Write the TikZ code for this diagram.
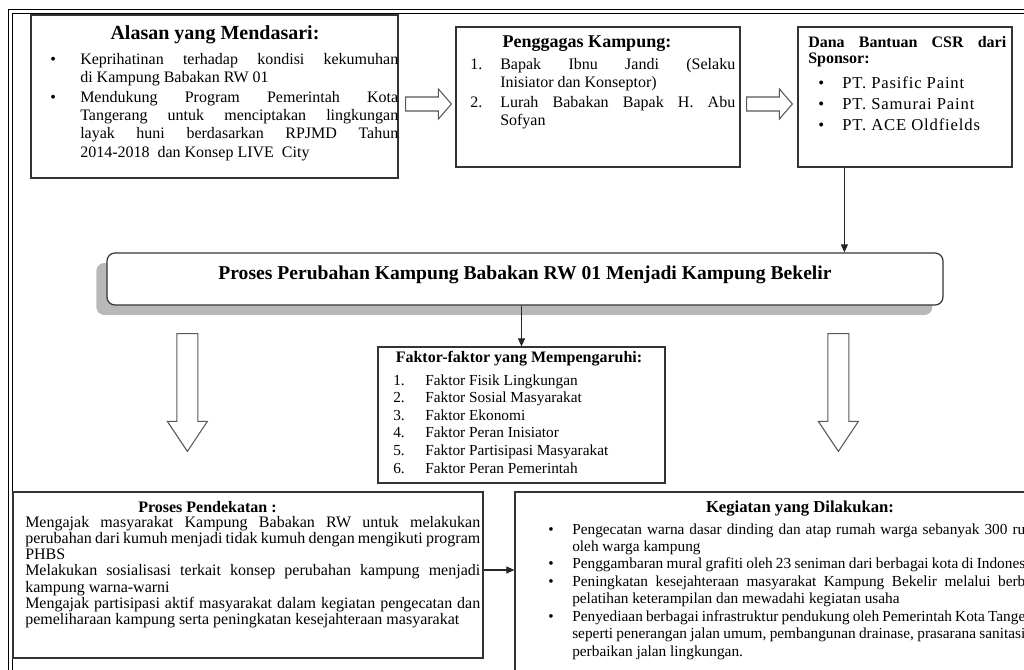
\documentclass[tikz,border=0pt]{standalone}
\usepackage{fontspec}
\setmainfont{Liberation Serif}
\usetikzlibrary{positioning, arrows.meta, calc, fit, shadows}

\newcommand{\hfnt}{\fontsize{15}{18}\selectfont\bfseries}
\newcommand{\bfnt}[1]{\fontsize{12}{#1}\selectfont}
% hanging list items (each item ends with \par)
\newcommand{\bulitem}[1]{\noindent\hangindent=#1\hangafter=1\makebox[#1][l]{\textbullet}\ignorespaces}
\newcommand{\numitem}[2]{\noindent\hangindent=#1\hangafter=1\makebox[#1][l]{#2}\ignorespaces}
% hollow block arrows
\newcommand{\rightblock}[2]{%
  \draw[blockarrow] ($(#1)+(0,-7)$) -- ($(#2)+(-13,-7)$) -- ($(#2)+(-13,-15)$) -- (#2)
    -- ($(#2)+(-13,15)$) -- ($(#2)+(-13,7)$) -- ($(#1)+(0,7)$) -- cycle;}
\newcommand{\downblock}[2]{%
  \draw[blockarrow] ($(#1)+(-10.5,0)$) -- ($(#2)+(-10.5,-30)$) -- ($(#2)+(-20,-30)$) -- (#2)
    -- ($(#2)+(20,-30)$) -- ($(#2)+(10.5,-30)$) -- ($(#1)+(10.5,0)$) -- cycle;}

\begin{document}
\begin{tikzpicture}[x=0.75pt, y=-0.75pt,
  box/.style={draw=black!80, line width=0.9pt, inner sep=0pt},
  txt/.style={inner sep=0pt, anchor=base west, align=justify},
  head/.style={inner sep=0pt, anchor=base},
  link/.style={black!85, line width=0.8pt, -{Triangle[length=6pt,width=5.25pt]}},
  blockarrow/.style={draw=black!65, line width=0.8pt, fill=white, line join=miter},
  frame/.style={black, line width=0.75pt}]
\useasboundingbox (0,0) rectangle (1024,669);
\clip (0,0) rectangle (1024,669);

% double frame
\draw[frame] (8,700) -- (8,9) -- (1040,9);
\draw[frame] (12,700) -- (12,13) -- (1040,13);

% top row
\node[box, fit={(31,15) (398,178)}] (alasan) {};
\node[box, fit={(456,27) (740,167)}] (penggagas) {};
\node[box, fit={(798,27) (1012,167)}] (dana) {};

\node[head] (alasanhead) at (215,39) {\hfnt Alasan yang Mendasari:};
\node[txt, text width=261pt] (alasantext) at (50,64) {\bfnt{13.65pt}\setlength{\parskip}{1.5pt}%
  \bulitem{22.5pt}Keprihatinan terhadap kondisi kekumuhan\linebreak di Kampung Babakan RW 01\par
  \bulitem{22.5pt}Mendukung Program Pemerintah Kota\linebreak Tangerang untuk menciptakan lingkungan\linebreak
  layak huni berdasarkan RPJMD Tahun\linebreak 2014-2018 \ dan Konsep LIVE \ City\par};

\node[head] (penggagashead) at (587,47) {\fontsize{13.5}{16}\selectfont\bfseries Penggagas Kampung:};
\node[txt, text width=198.75pt] (penggagastext) at (470,69) {\bfnt{13.6pt}\setlength{\parskip}{1.5pt}%
  \numitem{22.5pt}{1.}Bapak Ibnu Jandi (Selaku\linebreak Inisiator dan Konseptor)\par
  \numitem{22.5pt}{2.}Lurah Babakan Bapak H. Abu\linebreak Sofyan\par};

\node[txt, text width=148.5pt] (danahead) at (808,47) {\fontsize{12}{15}\selectfont\bfseries
  Dana Bantuan CSR dari\linebreak Sponsor:};
\node[txt, text width=142.5pt] (danatext) at (818,88) {\fontsize{12.5}{15.75}\selectfont\addfontfeature{LetterSpace=5}%
  \bulitem{18pt}PT. Pasific Paint\par
  \bulitem{18pt}PT. Samurai Paint\par
  \bulitem{18pt}PT. ACE Oldfields\par};

% main process
\node[box, fit={(107,253) (943,305)}, rounded corners=6pt, fill=white,
  drop shadow={shadow xshift=-8pt, shadow yshift=-7.5pt, fill=black!28, opacity=1}] (proses) {};
\node[head] (prosestitle) at (525,279) {\fontsize{14.7}{17}\selectfont\bfseries
  Proses Perubahan Kampung Babakan RW 01 Menjadi Kampung Bekelir};

% factors
\node[box, fit={(378,347) (665,483)}] (faktor) {};
\node[head] (faktorhead) at (519,362) {\fontsize{12}{14}\selectfont\bfseries Faktor-faktor yang Mempengaruhi:};
\node[txt, text width=198.75pt] (faktortext) at (393,385) {\fontsize{11.5}{13.2}\selectfont%
  \numitem{24pt}{1.}Faktor Fisik Lingkungan\par
  \numitem{24pt}{2.}Faktor Sosial Masyarakat\par
  \numitem{24pt}{3.}Faktor Ekonomi\par
  \numitem{24pt}{4.}Faktor Peran Inisiator\par
  \numitem{24pt}{5.}Faktor Partisipasi Masyarakat\par
  \numitem{24pt}{6.}Faktor Peran Pemerintah\par};

% bottom row
\node[box, fit={(13,492) (483,658)}] (pendekatan) {};
\node[head, anchor=base west] (pendekatanhead) at (138,512) {\fontsize{12}{14}\selectfont\bfseries Proses Pendekatan :};
\node[txt, text width=341.25pt] (pendekatantext) at (25,527) {\fontsize{12}{12.2}\selectfont%
  Mengajak masyarakat Kampung Babakan RW untuk melakukan\linebreak
  perubahan dari kumuh menjadi tidak kumuh dengan mengikuti program\linebreak PHBS\par
  Melakukan sosialisasi terkait konsep perubahan kampung menjadi\linebreak kampung warna-warni\par
  Mengajak partisipasi aktif masyarakat dalam kegiatan pengecatan dan\linebreak
  pemeliharaan kampung serta peningkatan kesejahteraan masyarakat\par};

\node[box, fit={(515,492) (1040,700)}] (kegiatan) {};
\node[head] (kegiatanhead) at (800,512) {\fontsize{12.5}{14}\selectfont\bfseries Kegiatan yang Dilakukan:};
\node[txt, text width=357.75pt] (kegiatantext) at (548,534) {\fontsize{11.5}{13.1}\selectfont%
  \bulitem{18pt}Pengecatan warna dasar dinding dan atap rumah warga sebanyak 300 ru\linebreak oleh warga kampung\par
  \bulitem{18pt}Penggambaran mural grafiti oleh 23 seniman dari berbagai kota di Indones{\parfillskip=0pt\par}
  \bulitem{18pt}Peningkatan kesejahteraan masyarakat Kampung Bekelir melalui berb\linebreak
  pelatihan keterampilan dan mewadahi kegiatan usaha\par
  \bulitem{18pt}Penyediaan berbagai infrastruktur pendukung oleh Pemerintah Kota Tange\linebreak
  seperti penerangan jalan umum, pembangunan drainase, prasarana sanitasi\linebreak
  perbaikan jalan lingkungan.\par};

% block arrows
\coordinate (a1) at ($(alasan.east)+(7,7.5)$);
\coordinate (a2) at ($(penggagas.west)+(-4,7)$);
\coordinate (b1) at ($(penggagas.east)+(6,7)$);
\coordinate (b2) at ($(dana.west)+(-5,7)$);
\rightblock{a1}{a2}
\rightblock{b1}{b2}
\coordinate (c1) at ($(proses.south west)+(81,28)$);
\coordinate (c2) at ($(pendekatan.north west)+(175,-40)$);
\coordinate (d1) at ($(proses.south west)+(732,28)$);
\coordinate (d2) at ($(kegiatan.north west)+(324,-40)$);
\downblock{c1}{c2}
\downblock{d1}{d2}

% line arrows
\coordinate (danafoot) at ($(dana.south west)+(47,0)$);
\draw[link] (danafoot) -- (danafoot |- proses.north);
\draw[link] (proses.south -| faktor.north) -- (faktor.north);
\coordinate (pendfoot) at ($(pendekatan.east)+(0,-5)$);
\draw[link] (pendfoot) -- (pendfoot -| kegiatan.west);
\end{tikzpicture}
\end{document}
